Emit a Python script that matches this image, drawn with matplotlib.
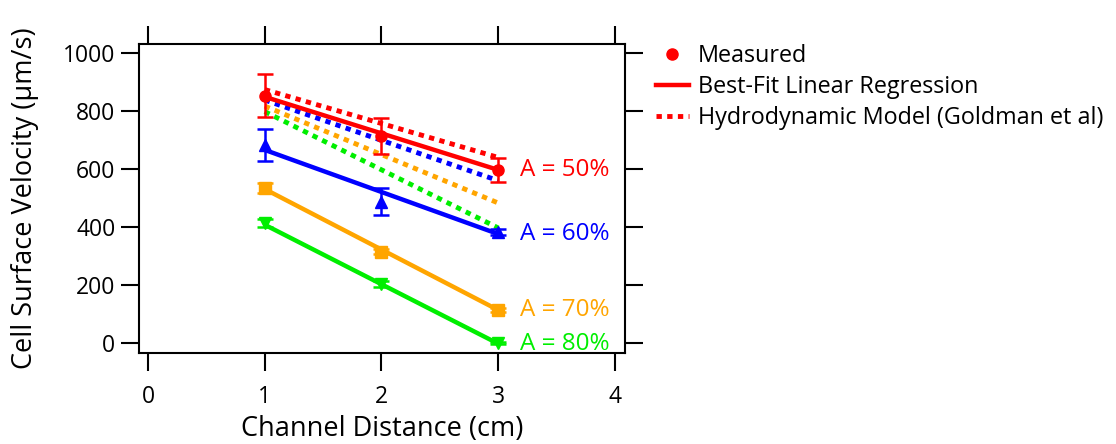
import numpy as np
import matplotlib
matplotlib.use('Agg')
import matplotlib.pyplot as plt
from matplotlib.lines import Line2D

plt.rcParams['font.family'] = ['Open Sans', 'DejaVu Sans']

# measured cell surface velocity at each channel distance (um/s)
distance = [1, 2, 3]
labels = ['A = 50%', 'A = 60%', 'A = 70%', 'A = 80%']
colors = ['#ff0000', '#0000ff', '#ffa500', '#00ee00']
markers = ['o', '^', 's', 'v']

measured_50 = [853, 714, 597]
measured_60 = [683, 487, 383]
measured_70 = [534, 315, 114]
measured_80 = [414, 203, 0]
err_50 = [73, 62, 41]
err_60 = [55, 47, 10]
err_70 = [18, 8, 6]
err_80 = [15, 10, 4]

# best-fit linear regression, values at x = 1 and x = 3
fit_x = [1, 3]
fit_50 = [849, 597]
fit_60 = [666, 376]
fit_70 = [531, 114]
fit_80 = [408, -2]

# hydrodynamic model (Goldman et al), values at x = 1 and x = 3
model_50 = [874, 640]
model_60 = [838, 560]
model_70 = [817, 483]
model_80 = [798, 397]

measured = [measured_50, measured_60, measured_70, measured_80]
errors = [err_50, err_60, err_70, err_80]
fits = [fit_50, fit_60, fit_70, fit_80]
models = [model_50, model_60, model_70, model_80]

fig = plt.figure(figsize=(11.16, 4.44), dpi=100)
ax = fig.add_axes([139 / 1116, 91 / 444, 486 / 1116, 309 / 444])

dots = (0, (1.1, 1.1))

# dotted model lines first so the solid ones sit on top
for k in [3, 2, 1, 0]:
    ax.plot(fit_x, models[k], color=colors[k], lw=3.5, linestyle=dots)

for k in range(4):
    ax.plot(fit_x, fits[k], color=colors[k], lw=3.2, solid_capstyle='butt')
    ax.errorbar(distance, measured[k], yerr=errors[k], fmt=markers[k],
                color=colors[k], ms=8, elinewidth=1.8, capsize=6, capthick=1.8)
    ax.text(3.19, fits[k][1], labels[k], color=colors[k], fontsize=17.5,
            va='center', ha='left')

ax.set_xlim(-0.077, 4.086)
ax.set_ylim(-34, 1031)
ax.set_xticks([0, 1, 2, 3, 4])
ax.set_yticks([0, 200, 400, 600, 800, 1000])
ax.tick_params(direction='out', length=13, width=1.5, labelsize=16.5,
               top=True, right=True)
ax.tick_params(axis='x', pad=10)
ax.tick_params(axis='y', pad=4)
for s in ax.spines.values():
    s.set_linewidth(1.5)

ax.set_xlabel('Channel Distance (cm)', fontsize=19.5, labelpad=4)
ax.set_ylabel('Cell Surface Velocity (µm/s)', fontsize=19.5, labelpad=17)

handles = [
    Line2D([], [], color='#ff0000', marker='o', ms=8, linestyle='none'),
    Line2D([], [], color='#ff0000', lw=3.2),
    Line2D([], [], color='#ff0000', lw=3.5, linestyle=dots),
]
names = ['Measured', 'Best-Fit Linear Regression', 'Hydrodynamic Model (Goldman et al)']
fig.legend(handles, names, loc='upper left', bbox_to_anchor=(656 / 1116, 1 - 44 / 444),
           frameon=False, fontsize=16.8, handlelength=1.4, handletextpad=0.4,
           labelspacing=0.3, borderpad=0, borderaxespad=0)

fig.savefig('out.png', dpi=100)
